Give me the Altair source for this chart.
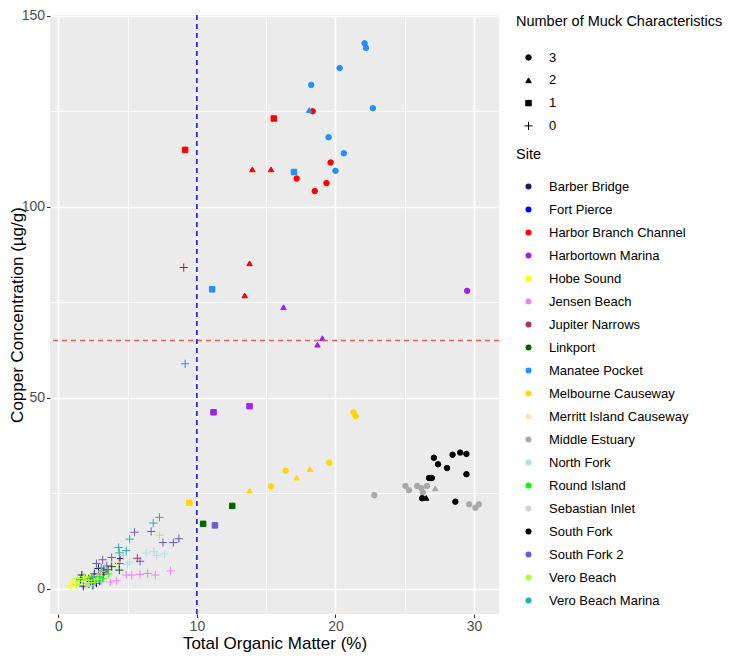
import altair as alt
import pandas as pd

# ---------------- data ----------------
# each entry: (total organic matter %, copper ug/g); muck = number of muck characteristics
barber_bridge = [(1.7, 3.6), (2.9, 5.3), (4.45, 7.9), (2.2, 2.6), (3.3, 4.4), (2.6, 3.9)]
barber_bridge_muck = [0, 0, 0, 0, 0, 0]

fort_pierce = [(1.8, 0.7), (2.5, 0.9), (2.2, 1.3), (3.0, 2.0), (2.75, 1.5)]
fort_pierce_muck = [0, 0, 0, 0, 0]

harbor_branch = [(9.05, 84.1), (9.15, 114.9), (15.55, 123.1), (14.0, 109.8), (15.35, 109.8),
                 (13.8, 85.2), (13.45, 76.8), (18.35, 125.0), (19.65, 111.6), (17.2, 107.4),
                 (19.35, 106.2), (18.5, 104.1)]
harbor_branch_muck = [0, 1, 1, 2, 2, 2, 2, 3, 3, 3, 3, 3]

harbortown = [(11.2, 46.2), (13.8, 47.8), (16.25, 73.7), (19.05, 65.6), (18.7, 63.9), (29.5, 78.0)]
harbortown_muck = [1, 1, 2, 2, 2, 3]

hobe_sound = [(0.9, 0.7), (1.05, 1.8), (1.3, 1.0), (1.6, 2.2), (2.3, 2.9)]
hobe_sound_muck = [0, 0, 0, 0, 0]

jensen_beach = [(4.9, 3.6), (5.3, 3.6), (5.9, 3.8), (6.45, 4.0), (7.0, 3.6), (8.1, 4.7),
                (3.75, 1.8), (4.2, 2.1), (2.9, 3.1)]
jensen_beach_muck = [0, 0, 0, 0, 0, 0, 0, 0, 0]

jupiter_narrows = [(5.7, 8.0), (4.4, 6.6), (3.25, 3.8), (3.6, 5.0)]
jupiter_narrows_muck = [0, 0, 0, 0]

linkport = [(4.4, 4.9), (3.85, 5.8), (3.25, 4.7), (1.6, 2.4), (2.3, 1.9), (10.45, 17.0), (12.55, 21.7)]
linkport_muck = [0, 0, 0, 0, 0, 1, 1]

manatee_pocket = [(9.15, 58.9), (11.1, 78.4), (17.0, 109.1), (18.1, 125.3), (22.1, 142.8),
                  (22.2, 141.6), (20.3, 136.3), (18.25, 131.9), (22.7, 125.8), (19.5, 118.2),
                  (20.6, 114.0), (20.0, 109.4)]
manatee_pocket_muck = [0, 1, 1, 2, 3, 3, 3, 3, 3, 3, 3, 3]

melbourne = [(7.3, 14.0), (4.7, 8.7), (2.8, 3.4), (9.45, 22.5), (18.15, 31.3), (17.2, 29.1),
             (13.8, 25.7), (21.3, 46.2), (21.45, 45.2), (19.55, 33.0), (16.4, 30.9), (15.35, 26.8)]
melbourne_muck = [0, 0, 0, 1, 2, 2, 2, 3, 3, 3, 3, 3]

merritt_island = [(3.6, 2.8), (2.2, 1.5), (3.1, 4.6), (4.2, 7.0)]
merritt_island_muck = [0, 0, 0, 0]

middle_estuary = [(27.2, 26.3), (25.05, 26.9), (25.3, 25.8), (25.9, 26.9), (26.2, 26.3),
                  (26.6, 26.9), (26.3, 25.2), (22.8, 24.5), (29.65, 22.1), (30.1, 21.2), (30.35, 22.1)]
middle_estuary_muck = [2, 3, 3, 3, 3, 3, 3, 3, 3, 3, 3]

north_fork = [(6.35, 9.4), (7.1, 8.7), (7.65, 9.1), (5.15, 7.0), (5.0, 6.4), (6.9, 9.8)]
north_fork_muck = [0, 0, 0, 0, 0, 0]

round_island = [(3.0, 3.2), (3.2, 2.6), (2.7, 2.2), (2.4, 2.9), (3.6, 3.9)]
round_island_muck = [0, 0, 0, 0, 0]

sebastian_inlet = [(3.1, 1.8), (2.0, 1.2)]
sebastian_inlet_muck = [0, 0]

south_fork = [(26.55, 23.8), (27.1, 34.3), (28.45, 35.1), (29.0, 35.65), (29.45, 35.3), (27.4, 32.6),
              (28.05, 31.6), (29.45, 30.0), (26.75, 29.0), (26.95, 29.0), (26.25, 23.7), (28.65, 22.8)]
south_fork_muck = [2, 3, 3, 3, 3, 3, 3, 3, 3, 3, 3, 3]

south_fork_2 = [(5.5, 14.8), (6.7, 15.0), (7.55, 12.1), (8.3, 12.1), (8.7, 13.1), (3.85, 8.2),
                (2.75, 6.6), (3.5, 6.0), (5.9, 7.2), (3.2, 7.6), (11.3, 16.6)]
south_fork_2_muck = [0, 0, 0, 0, 0, 0, 0, 0, 0, 0, 1]

vero_beach = [(1.3, 1.2), (1.5, 2.0), (1.8, 2.6), (2.0, 1.0), (2.2, 2.2), (1.4, 2.7),
              (2.6, 1.7), (1.9, 3.2), (2.4, 0.8), (2.8, 2.5)]
vero_beach_muck = [0, 0, 0, 0, 0, 0, 0, 0, 0, 0]

vero_beach_marina = [(7.3, 18.7), (6.85, 17.2), (5.15, 13.0), (4.35, 10.8), (4.9, 10.0),
                     (4.4, 9.4), (3.1, 5.5), (2.5, 3.1)]
vero_beach_marina_muck = [0, 0, 0, 0, 0, 0, 0, 0]

sites = ["Barber Bridge", "Fort Pierce", "Harbor Branch Channel", "Harbortown Marina", "Hobe Sound",
         "Jensen Beach", "Jupiter Narrows", "Linkport", "Manatee Pocket", "Melbourne Causeway",
         "Merritt Island Causeway", "Middle Estuary", "North Fork", "Round Island", "Sebastian Inlet",
         "South Fork", "South Fork 2", "Vero Beach", "Vero Beach Marina"]
site_colors = ["#191970", "#0000FF", "#FF0000", "#A020F0", "#FFFF00", "#EE82EE", "#B03060",
               "#006400", "#1E90FF", "#FFD700", "#FFE4C4", "#A9A9A9", "#B0E0E6", "#00FF00",
               "#D3D3D3", "#000000", "#6A5ACD", "#ADFF2F", "#20B2AA"]
site_points = [barber_bridge, fort_pierce, harbor_branch, harbortown, hobe_sound, jensen_beach,
               jupiter_narrows, linkport, manatee_pocket, melbourne, merritt_island, middle_estuary,
               north_fork, round_island, sebastian_inlet, south_fork, south_fork_2, vero_beach,
               vero_beach_marina]
site_mucks = [barber_bridge_muck, fort_pierce_muck, harbor_branch_muck, harbortown_muck,
              hobe_sound_muck, jensen_beach_muck, jupiter_narrows_muck, linkport_muck,
              manatee_pocket_muck, melbourne_muck, merritt_island_muck, middle_estuary_muck,
              north_fork_muck, round_island_muck, sebastian_inlet_muck, south_fork_muck,
              south_fork_2_muck, vero_beach_muck, vero_beach_marina_muck]

muck_levels = ["3", "2", "1", "0"]
x_ticks = [0, 5, 10, 15, 20, 25, 30]
y_ticks = [0, 25, 50, 75, 100, 125, 150]
tom_threshold = 10
cu_threshold = 65

rows = []
for name, pts, mk in zip(sites, site_points, site_mucks):
    for (xv, yv), m in zip(pts, mk):
        rows.append({"site": name, "tom": xv, "cu": yv, "muck": str(m)})
df = pd.DataFrame(rows)

# ---------------- chart ----------------
FONT = "Liberation Sans"
PLUS = "M-1.5,0H1.5M0,-1.5V1.5"

x_scale = alt.Scale(domain=[-0.6, 31.8], nice=False, zero=False)
y_scale = alt.Scale(domain=[-6.6, 150.2], nice=False, zero=False)

x_axis = alt.Axis(
    values=x_ticks, labelExpr="datum.value % 10 == 0 ? datum.label : ''",
    grid=True, gridColor="white",
    gridWidth={"condition": {"test": "datum.value % 10 == 0", "value": 1.6}, "value": 0.8},
    tickOpacity={"condition": {"test": "datum.value % 10 == 0", "value": 1}, "value": 0},
    labelOverlap=False, labelPadding=2, titlePadding=2,
)
y_axis = alt.Axis(
    values=y_ticks, labelExpr="datum.value % 50 == 0 ? datum.label : ''",
    grid=True, gridColor="white",
    gridWidth={"condition": {"test": "datum.value % 50 == 0", "value": 1.6}, "value": 0.8},
    tickOpacity={"condition": {"test": "datum.value % 50 == 0", "value": 1}, "value": 0},
    labelOverlap=False, labelPadding=2, titleX=-33, titleBaseline="middle",
)

points = alt.Chart(df).mark_point(filled=True, opacity=1, size=30, strokeWidth=1).encode(
    x=alt.X("tom:Q", scale=x_scale, axis=x_axis, title="Total Organic Matter (%)"),
    y=alt.Y("cu:Q", scale=y_scale, axis=y_axis, title="Copper Concentration (µg/g)"),
    color=alt.Color(
        "site:N", scale=alt.Scale(domain=sites, range=site_colors),
        legend=alt.Legend(title="Site", orient="none", legendX=466, legendY=132.5,
                          symbolType="circle", symbolSize=36, symbolStrokeWidth=0,
                          rowPadding=9.0, titlePadding=18, symbolOffset=6, labelOffset=14),
    ),
    stroke=alt.Stroke("site:N", scale=alt.Scale(domain=sites, range=site_colors), legend=None),
    shape=alt.Shape(
        "muck:N", scale=alt.Scale(domain=muck_levels, range=["circle", "triangle-up", "square", PLUS]),
        legend=alt.Legend(title="Number of Muck Characteristics", orient="none", legendX=466, legendY=-0.5,
                          symbolSize=30, symbolFillColor="black", symbolStrokeColor="black",
                          symbolStrokeWidth=1, rowPadding=8.8, titlePadding=22,
                          symbolOffset=6, labelOffset=14),
    ),
)

vline = alt.Chart(pd.DataFrame({"v": [tom_threshold]})).mark_rule(
    color="blue", strokeDash=[5, 4], strokeWidth=1.5).encode(x=alt.X("v:Q", scale=x_scale))
hline = alt.Chart(pd.DataFrame({"v": [cu_threshold]})).mark_rule(
    color="#F05050", strokeDash=[5, 4], strokeWidth=1.5, opacity=0.9).encode(y=alt.Y("v:Q", scale=y_scale))

chart = alt.layer(points, hline, vline).properties(
    width=449, height=599,
    autosize=alt.AutoSizeParams(type="none"),
    padding={"left": 42, "top": 7, "right": 224, "bottom": 38},
).configure(font=FONT).configure_view(
    fill="#EBEBEB", strokeWidth=0
).configure_axis(
    domain=False, tickColor="#333333", tickSize=3.5, tickWidth=1,
    labelColor="#4D4D4D", labelFontSize=14, labelFont=FONT,
    titleFontSize=17, titleFontWeight="normal", titleColor="black", titleFont=FONT,
).configure_legend(
    titleFontSize=14.5, titleFontWeight="normal", titleColor="black", titleFont=FONT,
    labelFontSize=13, labelColor="black", labelFont=FONT, padding=0, titleLimit=400, labelLimit=300,
)

chart.save("out.html", embed_options={"renderer": "svg", "actions": False})
